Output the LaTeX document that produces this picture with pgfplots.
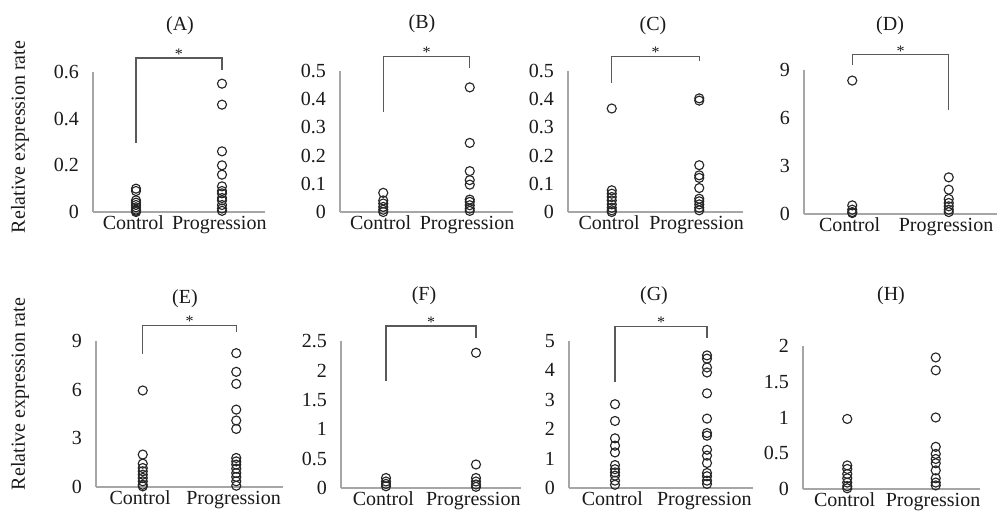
\documentclass[border=0pt]{standalone}
\usepackage{fontspec}
\setmainfont{Liberation Serif}
\usepackage{pgfplots}
\pgfplotsset{compat=1.18}
\definecolor{axgray}{HTML}{A6A6A6}
\definecolor{brk}{HTML}{595959}
\definecolor{mk}{HTML}{262626}
\definecolor{txt}{HTML}{1A1A1A}
\newcommand\fs{\fontsize{15}{18}\selectfont}
\pgfplotsset{
  panel/.style={
    scale only axis, axis x line=bottom, axis y line=left,
    axis line style={-, draw=axgray, line width=0.8pt},
    xmin=-0.5, xmax=1.5, ymin=0, xtick={0,1}, xticklabels={Control,Progression},
    major tick length=0pt, tick style={draw=none},
    tick label style={font=\fs, text=txt},
    /pgf/number format/assume math mode=true,
    yticklabel style={xshift=-7pt},
    xticklabel style={yshift=0.5pt, xshift=-2pt},
    clip=false, anchor=south west,
    title style={font=\fs, text=txt, anchor=center},
  },
  circ/.style={only marks, mark=o, mark size=3.4pt, mark options={line width=0.85pt, draw=mk}},
}
\tikzset{brk/.style={draw=brk, line width=0.8pt},
  star/.style={anchor=south, inner sep=0pt, yshift=-1pt, font=\fontsize{12}{12}\selectfont, text=txt}}
\begin{document}
\begin{tikzpicture}
\useasboundingbox (0,0) rectangle (753pt,384pt);
% (A)
\begin{axis}[panel, at={(69.75pt,225pt)}, width=129pt, height=105pt, ymax=0.6,
  ytick={0,0.2,0.4,0.6}, yticklabels={0,0.2,0.4,0.6},
  title={(A)}, title style={at={(0.506,1)}, yshift=28.5pt}]
\addplot[circ] coordinates {(0,0.10)(0,0.09)(0,0.05)(0,0.04)(0,0.03)(0,0.02)(0,0.01)(0,0.005)(0,0.0)};
\addplot[circ] coordinates {(1,0.55)(1,0.46)(1,0.26)(1,0.20)(1,0.16)(1,0.11)(1,0.09)(1,0.08)(1,0.06)(1,0.05)(1,0.03)(1,0.015)(1,0.005)};
\draw[brk] (axis cs:0,0.296) -- (axis cs:0,0.66) -- (axis cs:1,0.66) -- (axis cs:1,0.609);
\node[star] at (axis cs:0.5,0.66) {*};
\end{axis}
% (B)
\begin{axis}[panel, at={(255pt,225pt)}, width=129.75pt, height=105.75pt, ymax=0.5,
  ytick={0,0.1,0.2,0.3,0.4,0.5}, yticklabels={0,0.1,0.2,0.3,0.4,0.5},
  title={(B)}, title style={at={(0.474,1)}, yshift=29.5pt}]
\addplot[circ] coordinates {(0,0.068)(0,0.041)(0,0.03)(0,0.018)(0,0.008)(0,0.0)};
\addplot[circ] coordinates {(1,0.442)(1,0.245)(1,0.145)(1,0.113)(1,0.097)(1,0.044)(1,0.036)(1,0.024)(1,0.012)(1,0.004)};
\draw[brk] (axis cs:0,0.355) -- (axis cs:0,0.55) -- (axis cs:1,0.55) -- (axis cs:1,0.51);
\node[star] at (axis cs:0.5,0.55) {*};
\end{axis}
% (C)
\begin{axis}[panel, at={(426pt,225pt)}, width=131.25pt, height=105.75pt, ymax=0.5,
  ytick={0,0.1,0.2,0.3,0.4,0.5}, yticklabels={0,0.1,0.2,0.3,0.4,0.5},
  title={(C)}, title style={at={(0.486,1)}, yshift=28pt}]
\addplot[circ] coordinates {(0,0.367)(0,0.077)(0,0.065)(0,0.053)(0,0.041)(0,0.027)(0,0.015)(0,0.006)(0,0)};
\addplot[circ] coordinates {(1,0.403)(1,0.395)(1,0.166)(1,0.13)(1,0.121)(1,0.085)(1,0.047)(1,0.038)(1,0.027)(1,0.015)(1,0.006)};
\draw[brk] (axis cs:0,0.457) -- (axis cs:0,0.553) -- (axis cs:1,0.553) -- (axis cs:1,0.535);
\node[star] at (axis cs:0.5,0.553) {*};
\end{axis}
% (D)
\begin{axis}[panel, at={(603pt,223.5pt)}, width=144.75pt, height=108pt, ymax=9,
  ytick={0,3,6,9}, yticklabels={0,3,6,9},
  title={(D)}, title style={at={(0.446,1)}, yshift=27.5pt}]
\addplot[circ] coordinates {(0,8.34)(0,0.54)(0,0.27)(0,0.12)(0,0.06)};
\addplot[circ] coordinates {(1,2.29)(1,1.52)(1,0.94)(1,0.69)(1,0.48)(1,0.27)(1,0.12)};
\draw[brk] (axis cs:0,9.31) -- (axis cs:0,9.94) -- (axis cs:1,9.94) -- (axis cs:1,6.5);
\node[star] at (axis cs:0.5,9.94) {*};
\end{axis}
% (E)
\begin{axis}[panel, at={(72pt,18.75pt)}, width=140.25pt, height=109.5pt, ymax=9,
  ytick={0,3,6,9}, yticklabels={0,3,6,9},
  title={(E)}, title style={at={(0.476,1)}, yshift=25.5pt}]
\addplot[circ] coordinates {(0,5.95)(0,2.0)(0,1.44)(0,1.17)(0,0.97)(0,0.76)(0,0.56)(0,0.35)(0,0.14)(0,0.04)};
\addplot[circ] coordinates {(1,8.25)(1,7.1)(1,6.36)(1,4.77)(1,4.1)(1,3.58)(1,1.79)(1,1.58)(1,1.38)(1,1.13)(1,0.86)(1,0.62)(1,0.35)(1,0.08)};
\draw[brk] (axis cs:0,8.2) -- (axis cs:0,9.93) -- (axis cs:1,9.93) -- (axis cs:1,9.57);
\node[star] at (axis cs:0.5,9.93) {*};
\end{axis}
% (F)
\begin{axis}[panel, at={(255.75pt,18pt)}, width=135pt, height=110.25pt, ymax=2.5,
  ytick={0,0.5,1,1.5,2,2.5}, yticklabels={0,0.5,1,1.5,2,2.5},
  title={(F)}, title style={at={(0.461,1)}, yshift=28pt}]
\addplot[circ] coordinates {(0,0.17)(0,0.11)(0,0.07)(0,0.03)};
\addplot[circ] coordinates {(1,2.3)(1,0.4)(1,0.17)(1,0.11)(1,0.06)(1,0.02)};
\draw[brk] (axis cs:0,1.82) -- (axis cs:0,2.755) -- (axis cs:1,2.755) -- (axis cs:1,2.55);
\node[star] at (axis cs:0.5,2.755) {*};
\end{axis}
% (G)
\begin{axis}[panel, at={(426.75pt,18pt)}, width=138pt, height=110.25pt, ymax=5,
  ytick={0,1,2,3,4,5}, yticklabels={0,1,2,3,4,5},
  title={(G)}, title style={at={(0.462,1)}, yshift=28pt}]
\addplot[circ] coordinates {(0,2.85)(0,2.28)(0,1.69)(0,1.44)(0,1.21)(0,0.78)(0,0.64)(0,0.53)(0,0.42)(0,0.25)(0,0.11)};
\addplot[circ] coordinates {(1,4.51)(1,4.4)(1,4.1)(1,3.93)(1,3.22)(1,2.36)(1,1.87)(1,1.78)(1,1.3)(1,1.1)(1,0.85)(1,0.51)(1,0.4)(1,0.25)(1,0.14)};
\draw[brk] (axis cs:0,3.6) -- (axis cs:0,5.48) -- (axis cs:1,5.48) -- (axis cs:1,5.1);
\node[star] at (axis cs:0.5,5.48) {*};
\end{axis}
% (H)
\begin{axis}[panel, at={(602.25pt,17.25pt)}, width=132.75pt, height=107.25pt, ymax=2,
  ytick={0,0.5,1,1.5,2}, yticklabels={0,0.5,1,1.5,2},
  title={(H)}, title style={at={(0.497,1)}, yshift=31.5pt}]
\addplot[circ] coordinates {(0,0.98)(0,0.33)(0,0.28)(0,0.21)(0,0.15)(0,0.09)(0,0.04)(0,0.01)};
\addplot[circ] coordinates {(1,1.84)(1,1.66)(1,1.0)(1,0.59)(1,0.49)(1,0.42)(1,0.36)(1,0.26)(1,0.15)(1,0.09)(1,0.05)};
\end{axis}
\node[rotate=90, font=\fs, text=txt] at (15pt,281.25pt) {Relative expression rate};
\node[rotate=90, font=\fs, text=txt] at (15pt,88.5pt) {Relative expression rate};
\end{tikzpicture}
\end{document}
